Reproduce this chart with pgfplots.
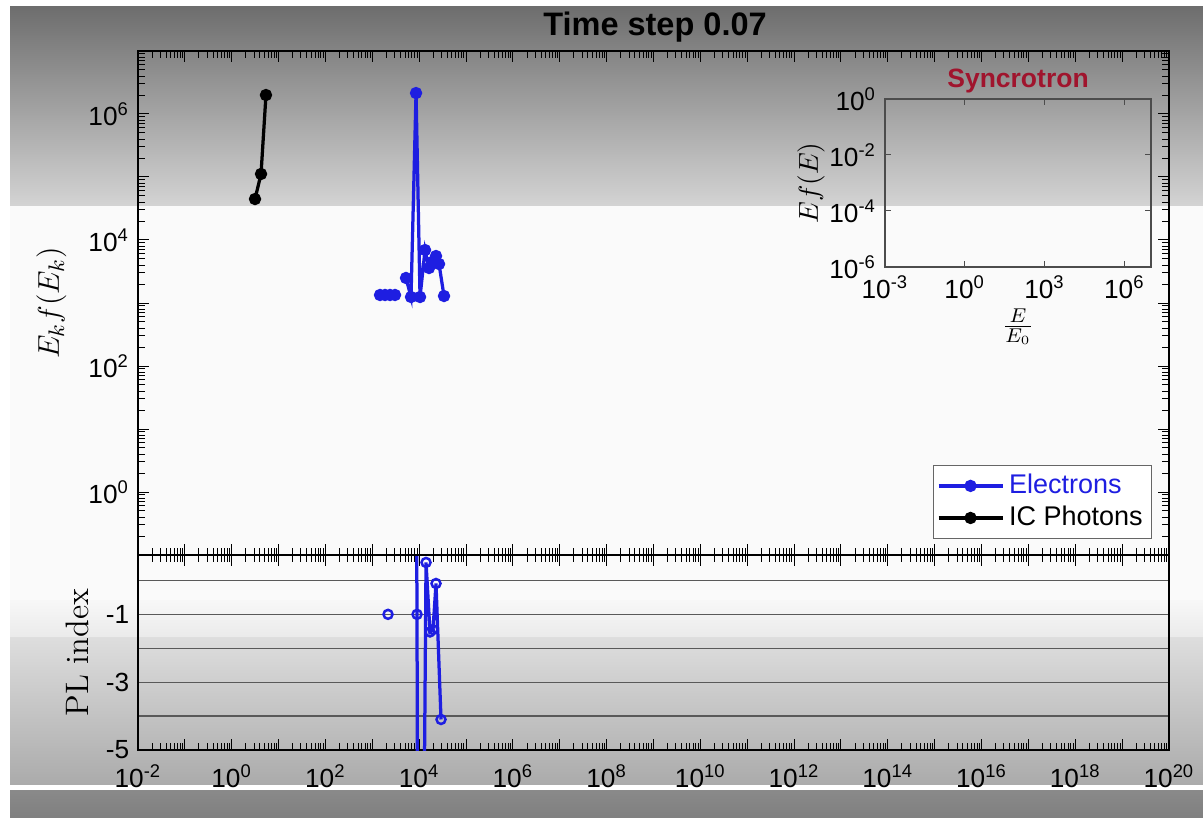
\documentclass[border=0pt]{standalone}
\usepackage{fontspec}
\setsansfont{Liberation Sans}
\usepackage{pgfplots}
\pgfplotsset{compat=1.18}
\definecolor{eblue}{RGB}{30,30,225}
\definecolor{synred}{RGB}{160,20,45}
\pgfplotsset{
  common/.style={
    scale only axis, anchor=south west,
    axis line style={black, line width=0.5pt},
    every tick/.style={black, line width=0.4pt},
    tick label style={font=\sffamily\fontsize{10.5}{12}\selectfont},
    unbounded coords=jump,
  },
  dec/.style={xtick={1e-2,1e-1,1e0,1e1,1e2,1e3,1e4,1e5,1e6,1e7,1e8,1e9,1e10,1e11,1e12,1e13,1e14,1e15,1e16,1e17,1e18,1e19,1e20}},
}
\begin{document}
\begin{tikzpicture}
\useasboundingbox (0,0) rectangle (481.2pt,326.8pt);
% background (screen capture gradient)
\fill[white] (0,0) rectangle (481.2pt,326.8pt);
\shade[top color=black!57, bottom color=black!17] (4pt,244.4pt) rectangle (481.2pt,324pt);
\fill[black!2] (4pt,86.8pt) rectangle (481.2pt,244.4pt);
\shade[top color=black!3, bottom color=black!8] (4pt,72pt) rectangle (481.2pt,86.8pt);
\shade[top color=black!13, bottom color=black!33] (4pt,13pt) rectangle (481.2pt,72pt);
\fill[white] (4pt,10.8pt) rectangle (481.2pt,13pt);
\shade[top color=black!46, bottom color=black!50] (4pt,0pt) rectangle (481.2pt,10.8pt);

% lower panel: PL index
\begin{axis}[common, dec,
  at={(55.2pt,26.8pt)}, width=412.4pt, height=78pt,
  xmode=log, xmin=1e-2, xmax=1e20, ymin=-5, ymax=0.75,
  xticklabels={10\textsuperscript{-2},,10\textsuperscript{0},,10\textsuperscript{2},,10\textsuperscript{4},,10\textsuperscript{6},,10\textsuperscript{8},,10\textsuperscript{10},,10\textsuperscript{12},,10\textsuperscript{14},,10\textsuperscript{16},,10\textsuperscript{18},,10\textsuperscript{20}},
  xticklabel style={yshift=-2.5pt},
  ytick={-5,-4,-3,-2,-1,0},
  yticklabels={-5,,-3,,-1,},
  ymajorgrids, grid style={black!65, line width=0.5pt},
  ytick style={draw=none},
  ylabel={PL index},
  ylabel style={font=\rmfamily\fontsize{13}{15}\selectfont},
]
\addplot[eblue, line width=1.3pt, mark=o, mark size=1.8pt, mark options={line width=1pt}] coordinates {
 (2163,-1) (3000,nan)
 (8570,5) (8995,-1) (9440,-15) (11480,-15) (14000,0.53) (17020,-1.52) (19720,-1.45) (22860,-0.09) (29240,-4.1)
};
\end{axis}

% main panel
\begin{axis}[common, dec,
  at={(55.2pt,104.8pt)}, width=412.4pt, height=201.6pt,
  xmode=log, ymode=log, xmin=1e-2, xmax=1e20, ymin=1e-1, ymax=1e7,
  xticklabels={},
  ytick={1e-1,1e0,1e1,1e2,1e3,1e4,1e5,1e6,1e7},
  yticklabels={,10\textsuperscript{0},,10\textsuperscript{2},,10\textsuperscript{4},,10\textsuperscript{6},},
  ylabel={$E_k f(E_k)$},
  ylabel style={font=\fontsize{13}{15}\selectfont, yshift=2pt},
  legend style={at={(0.9835,0.032)}, anchor=south east, draw=black!60, fill=white,
    font=\sffamily\fontsize{10.8}{12.5}\selectfont, inner sep=1.5pt, row sep=-0.5pt},
  legend cell align=left,
  legend image code/.code={\draw[mark repeat=2,mark phase=2] plot coordinates {(0cm,0cm) (0.45cm,0cm) (0.9cm,0cm)};},
]
\addplot[eblue, line width=1.3pt, mark=*, mark size=1.8pt] coordinates {
 (1460,1340) (1866,1340) (2388,1340) (3050,1340) (4000,nan)
 (5236,2495) (6696,1245) (8570,2.15e6) (10430,1245) (13330,6930)
 (16220,3594) (18790,4477) (22860,5570) (26490,4160) (33890,1291)
};
\addlegendentry{\textcolor{eblue}{Electrons}}
\addplot[black, line width=1.3pt, mark=*, mark size=1.8pt] coordinates {
 (3.14,4.47e4) (4.22,1.117e5) (5.38,2.0e6)
};
\addlegendentry{IC Photons}
\end{axis}
\node[anchor=base, font=\sffamily\bfseries\fontsize{13}{15}\selectfont, inner sep=0pt] at (262pt,312.4pt) {Time step 0.07};

% inset: Syncrotron
\begin{axis}[common,
  at={(354pt,220pt)}, width=106.4pt, height=67.2pt,
  xmode=log, ymode=log, xmin=1e-3, xmax=1e7, ymin=1e-6, ymax=1,
  axis line style={black!70, line width=0.6pt},
  every tick/.style={black!70, line width=0.4pt},
  major tick length=2.5pt,
  xtick={1e-3,1,1e3,1e6}, minor xtick={},
  ytick={1e-6,1e-4,1e-2,1}, minor ytick={},
  xticklabels={10\textsuperscript{-3},10\textsuperscript{0},10\textsuperscript{3},10\textsuperscript{6}},
  yticklabels={10\textsuperscript{-6},10\textsuperscript{-4},10\textsuperscript{-2},10\textsuperscript{0}},
  title={Syncrotron},
  title style={font=\sffamily\bfseries\fontsize{10.6}{12}\selectfont, text=synred, yshift=-7pt},
  xlabel={$\frac{E}{E_0}$},
  xlabel style={font=\fontsize{11}{13}\selectfont, yshift=3pt},
  ylabel={$Ef(E)$},
  ylabel style={font=\fontsize{11}{13}\selectfont, yshift=-5pt},
]
\end{axis}
\end{tikzpicture}
\end{document}
